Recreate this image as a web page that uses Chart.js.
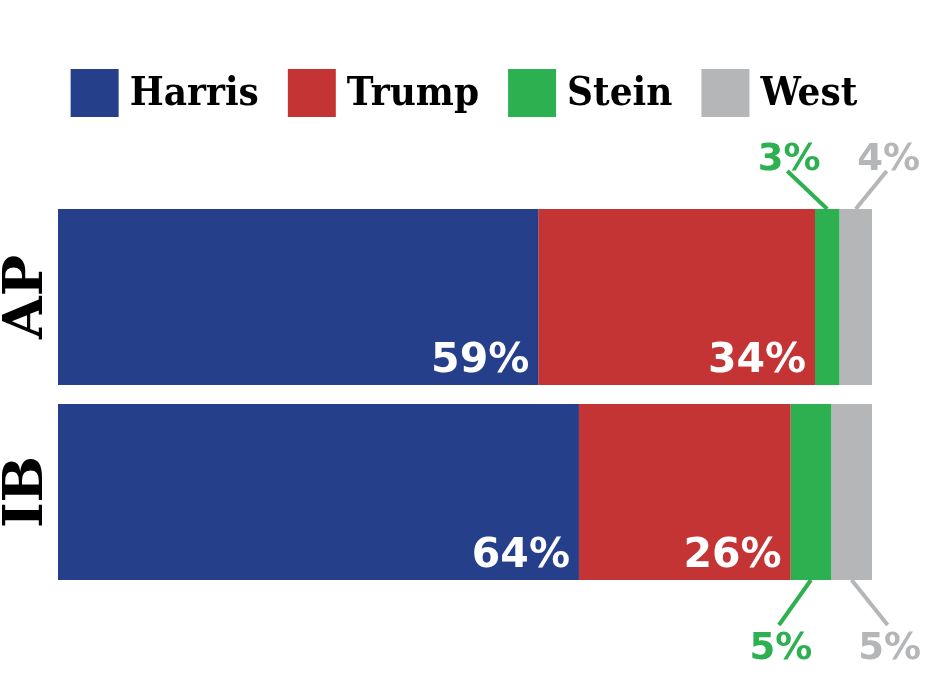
<!DOCTYPE html>
<html>
<head>
<meta charset="utf-8">
<script src="https://cdn.jsdelivr.net/npm/chart.js@4/dist/chart.umd.min.js"></script>
<style>
  html, body { margin: 0; padding: 0; background: #fff; }
  #wrap { width: 926px; height: 695px; }
</style>
</head>
<body>
<div id="wrap"><canvas id="chart"></canvas></div>
<script>
const pollsters = ["AP", "IB"];
const candidates = ["Harris", "Trump", "Stein", "West"];
const harris = [59, 64];
const trump = [34, 26];
const stein = [3, 5];
const west = [4, 5];
const colors = ["#263f8a", "#c43434", "#2cb050", "#b5b6b8"];

const serif = "'DejaVu Serif Condensed', 'DejaVu Serif', serif";
const sans = "'DejaVu Sans', sans-serif";

// legend drawn by hand so the four items sit on one row like the original
const legendRow = {
  id: "legendRow",
  afterDraw(chart) {
    const ctx = chart.ctx;
    const box = 48, gap = 11, spacing = 29, top = 69;
    ctx.save();
    ctx.font = "bold 40px " + serif;
    const items = chart.data.datasets.map((ds) => ({
      label: ds.label,
      color: ds.backgroundColor,
      w: ctx.measureText(ds.label).width,
    }));
    const total = items.reduce((s, it) => s + box + gap + it.w, 0) + spacing * (items.length - 1);
    let x = (chart.chartArea.left + chart.chartArea.right) / 2 - total / 2 - 1;
    items.forEach((it) => {
      ctx.fillStyle = it.color;
      ctx.fillRect(x, top, box, box);
      ctx.fillStyle = "#000";
      ctx.textAlign = "left";
      ctx.textBaseline = "alphabetic";
      ctx.fillText(it.label, x + box + gap, top + 36);
      x += box + gap + it.w + spacing;
    });
    ctx.restore();
  },
};

// labels inside the big segments, leader-line labels for the small ones
const barLabels = {
  id: "barLabels",
  afterDatasetsDraw(chart) {
    const ctx = chart.ctx;
    ctx.save();
    chart.data.datasets.forEach((ds, di) => {
      const meta = chart.getDatasetMeta(di);
      meta.data.forEach((bar, i) => {
        const text = ds.data[i] + "%";
        const top = bar.y - bar.height / 2;
        const bottom = bar.y + bar.height / 2;
        if (di < 2) {
          ctx.font = "bold 41px " + sans;
          ctx.fillStyle = "#fff";
          ctx.textAlign = "right";
          ctx.textBaseline = "alphabetic";
          ctx.fillText(text, bar.x - 9, bottom - 13);
          return;
        }
        const cx = (bar.x + bar.base) / 2;
        const dx = ds.leaderDx[i];
        const above = i === 0;
        const y0 = above ? top : bottom;
        const y1 = above ? top - 38 : bottom + 45;
        ctx.strokeStyle = ds.backgroundColor;
        ctx.lineWidth = 4;
        ctx.beginPath();
        ctx.moveTo(cx, y0);
        ctx.lineTo(cx + dx, y1);
        ctx.stroke();
        ctx.font = "bold 37px " + sans;
        ctx.fillStyle = ds.backgroundColor;
        ctx.textAlign = "center";
        ctx.textBaseline = "alphabetic";
        ctx.fillText(text, cx + dx + 2, above ? y1 - 1 : y1 + 34);
      });
    });
    ctx.restore();
  },
};

// rotated pollster names left of the bars
const categoryLabels = {
  id: "categoryLabels",
  afterDraw(chart) {
    const ctx = chart.ctx;
    const y = chart.scales.y;
    ctx.save();
    ctx.font = "bold 55px 'DejaVu Serif', serif";
    ctx.fillStyle = "#000";
    ctx.textAlign = "center";
    ctx.textBaseline = "middle";
    pollsters.forEach((name, i) => {
      ctx.save();
      ctx.translate(26, y.getPixelForValue(i));
      ctx.rotate(-Math.PI / 2);
      ctx.fillText(name, 0, 2);
      ctx.restore();
    });
    ctx.restore();
  },
};

const series = [harris, trump, stein, west];
const leader = [null, null, [-40, -32], [31, 36]];

new Chart(document.getElementById("chart"), {
  type: "bar",
  data: {
    labels: pollsters,
    datasets: candidates.map((name, k) => ({
      label: name,
      data: series[k],
      backgroundColor: colors[k],
      borderWidth: 0,
      leaderDx: leader[k],
      barPercentage: 1,
      categoryPercentage: 0.9026,
    })),
  },
  options: {
    indexAxis: "y",
    responsive: true,
    maintainAspectRatio: false,
    animation: false,
    layout: { padding: { top: 199.5, left: 58, right: 54, bottom: 105.5 } },
    scales: {
      x: { stacked: true, min: 0, max: 100, display: false },
      y: { stacked: true, display: false },
    },
    plugins: {
      tooltip: { enabled: false },
      legend: { display: false },
    },
  },
  plugins: [barLabels, categoryLabels, legendRow],
});
</script>
</body>
</html>
